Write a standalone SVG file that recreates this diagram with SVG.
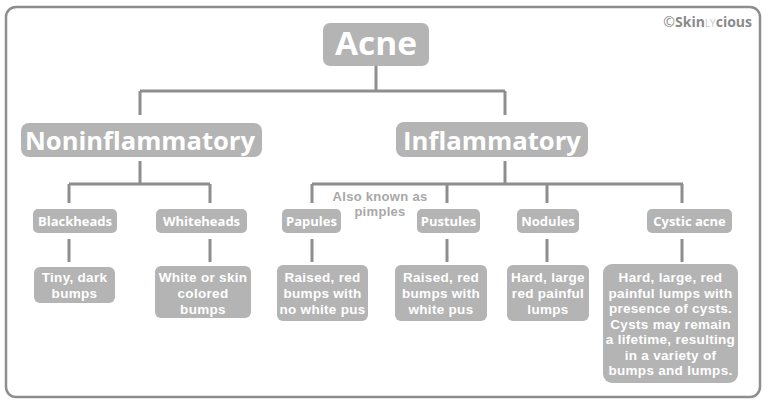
<svg xmlns="http://www.w3.org/2000/svg" width="768" height="403" viewBox="0 0 768 403">
<style>
.box{fill:#b4b4b4}
.t{font-family:"Open Sans","Liberation Sans",sans-serif;font-weight:bold;fill:#ffffff;text-anchor:middle}
.h1{font-size:32px}
.h2{font-size:25px}
.h3{font-size:13px}
.d{font-family:"Liberation Sans",Arial,sans-serif;font-size:13.5px;letter-spacing:0.3px}
.c{fill:none;stroke:#8e8e8e;stroke-width:3}
.note{font-family:"Liberation Sans",Arial,sans-serif;font-size:13px;fill:#a8a8a8;text-anchor:middle;font-weight:bold;letter-spacing:0.3px}
</style>
<rect x="0" y="0" width="768" height="403" fill="#ffffff"/>
<rect x="6" y="7" width="754" height="390" rx="10" fill="none" stroke="#8e8e8e" stroke-width="2.5"/>
<text x="752" y="27" text-anchor="end" font-family="Open Sans,Liberation Sans,sans-serif" font-size="14" fill="#8a8a8a"><tspan font-size="14">©</tspan><tspan font-weight="bold">Skin</tspan><tspan font-size="10" fill="#c8c8c8">LY</tspan><tspan font-weight="bold">cious</tspan></text>
<g id="connectors" class="c">
<path d="M376 66V91M140 91H505M140 91V115M505 91V115"/>
<path d="M140 161V184M69 184H210M69 184V203M210 184V203"/>
<path d="M505 161V184M312 184H683M312 184V203M447 184V203M547 184V203M682 184V203"/>
<path d="M69 239V262M210 239V262M312 239V262M447 239V262M547 239V262M682 239V262"/>
</g>
<g id="acne"><rect class="box" x="323" y="23" width="106" height="43" rx="7"/><text class="t h1" x="376" y="55" textLength="82" lengthAdjust="spacingAndGlyphs">Acne</text></g>
<g id="noninflammatory"><rect class="box" x="21" y="123" width="241" height="34" rx="8"/><text class="t h2" x="140" y="150" textLength="230" lengthAdjust="spacingAndGlyphs">Noninflammatory</text></g>
<g id="inflammatory"><rect class="box" x="396" y="122" width="192" height="35" rx="8"/><text class="t h2" x="492" y="150" textLength="178" lengthAdjust="spacingAndGlyphs">Inflammatory</text></g>
<text class="note" x="380" y="201">Also known as</text>
<text class="note" x="380" y="216">pimples</text>
<g id="blackheads"><rect class="box" x="33" y="209" width="84" height="24" rx="5"/><text class="t h3" x="75" y="226">Blackheads</text></g>
<g id="whiteheads"><rect class="box" x="156" y="209" width="91" height="24" rx="5"/><text class="t h3" x="201.5" y="226">Whiteheads</text></g>
<g id="papules"><rect class="box" x="282" y="209" width="59" height="24" rx="5"/><text class="t h3" x="311.5" y="226">Papules</text></g>
<g id="pustules"><rect class="box" x="417" y="209" width="63" height="24" rx="5"/><text class="t h3" x="448.5" y="226">Pustules</text></g>
<g id="nodules"><rect class="box" x="517" y="209" width="62" height="24" rx="5"/><text class="t h3" x="548" y="226">Nodules</text></g>
<g id="cystic-acne"><rect class="box" x="647" y="209" width="85" height="24" rx="5"/><text class="t h3" x="689.5" y="226">Cystic acne</text></g>
<g id="blackheads-desc"><rect class="box" x="34" y="267" width="81" height="36" rx="6"/><text class="t d" x="74.5" y="282">Tiny, dark<tspan x="74.5" dy="16">bumps</tspan></text></g>
<g id="whiteheads-desc"><rect class="box" x="155" y="266" width="96" height="52" rx="6"/><text class="t d" x="203" y="282">White or skin<tspan x="203" dy="16">colored</tspan><tspan x="203" dy="16">bumps</tspan></text></g>
<g id="papules-desc"><rect class="box" x="277" y="265" width="91" height="56" rx="6"/><text class="t d" x="322.5" y="282">Raised, red<tspan x="322.5" dy="16">bumps with</tspan><tspan x="322.5" dy="16">no white pus</tspan></text></g>
<g id="pustules-desc"><rect class="box" x="395" y="265" width="92" height="56" rx="6"/><text class="t d" x="441" y="282">Raised, red<tspan x="441" dy="16">bumps with</tspan><tspan x="441" dy="16">white pus</tspan></text></g>
<g id="nodules-desc"><rect class="box" x="507" y="265" width="82" height="56" rx="6"/><text class="t d" x="548" y="282">Hard, large<tspan x="548" dy="16">red painful</tspan><tspan x="548" dy="16">lumps</tspan></text></g>
<g id="cystic-desc"><rect class="box" x="603" y="264" width="135" height="119" rx="9"/><text class="t d" x="670.5" y="282">Hard, large, red<tspan x="670.5" dy="15.5">painful lumps with</tspan><tspan x="670.5" dy="15.5">presence of cysts.</tspan><tspan x="670.5" dy="15.5">Cysts may remain</tspan><tspan x="670.5" dy="15.5">a lifetime, resulting</tspan><tspan x="670.5" dy="15.5">in a variety of</tspan><tspan x="670.5" dy="15.5">bumps and lumps.</tspan></text></g>
</svg>
